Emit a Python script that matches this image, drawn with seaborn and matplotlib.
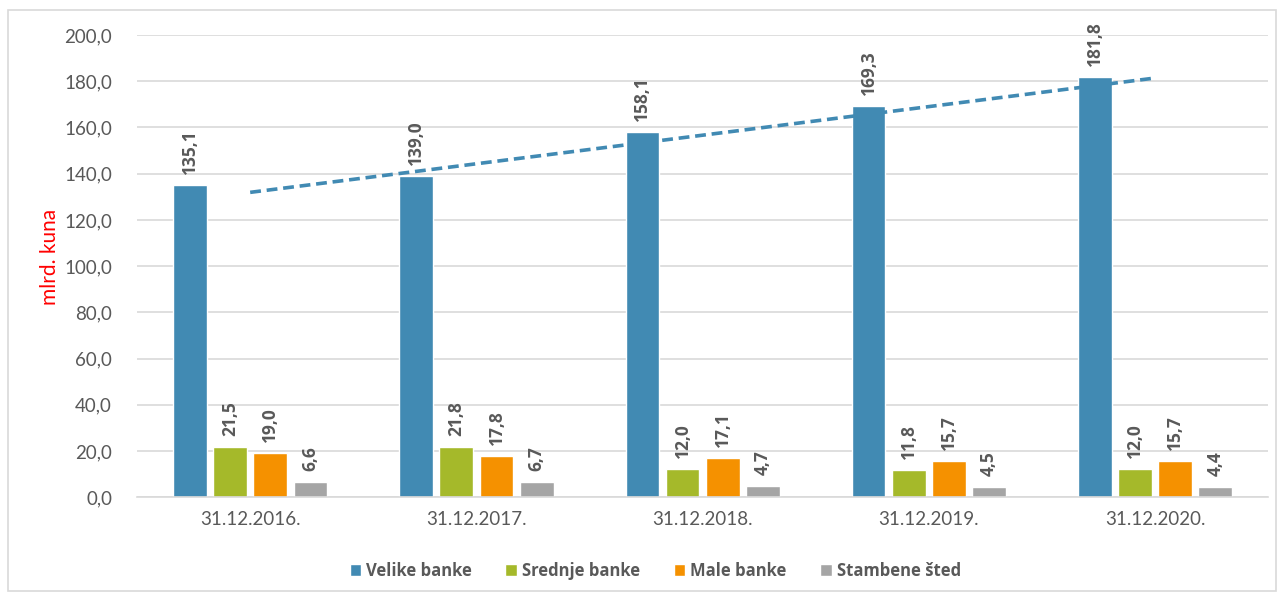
import numpy as np
import pandas as pd
import seaborn as sns
import matplotlib.pyplot as plt
from matplotlib.ticker import FuncFormatter
from matplotlib.patches import Rectangle

dates = ['31.12.2016.', '31.12.2017.', '31.12.2018.', '31.12.2019.', '31.12.2020.']
groups = ['Velike banke', 'Srednje banke', 'Male banke', 'Stambene šted']
velike = [135.1, 139.0, 158.1, 169.3, 181.8]
srednje = [21.5, 21.8, 12.0, 11.8, 12.0]
male = [19.0, 17.8, 17.1, 15.7, 15.7]
stambene = [6.6, 6.7, 4.7, 4.5, 4.4]
colors = ['#418AB3', '#A5B92A', '#F59100', '#A5A5A5']

rows = []
for g, vals in zip(groups, [velike, srednje, male, stambene]):
    for d, v in zip(dates, vals):
        rows.append({'datum': d, 'grupa': g, 'iznos': v})
df = pd.DataFrame(rows)

sns.set_style('white')
plt.rcParams['font.family'] = ['Lato', 'DejaVu Sans']
grey = '#595959'
bold_font = ['Open Sans', 'DejaVu Sans']

fig = plt.figure(figsize=(12.81, 5.94), dpi=100)
ax = fig.add_axes([0.107, 0.163, 0.883, 0.778])

sns.barplot(data=df, x='datum', y='iznos', hue='grupa', hue_order=groups,
            palette=colors, width=0.71, gap=0.16, ax=ax, legend=True,
            saturation=1)

for cont in ax.containers:
    labs = [f'{b.get_height():.1f}'.replace('.', ',') for b in cont]
    ax.bar_label(cont, labels=labs, rotation=90, padding=8, color=grey,
                 fontsize=12.5, fontweight='bold', family=bold_font)

# linearni trend za velike banke
xs = np.arange(len(dates))
k, n = np.polyfit(xs, velike, 1)
ax.plot(xs, k * xs + n, linestyle=(0, (3, 1.6)), color='#418AB3', lw=2.6)

ax.set_ylim(0, 200)
ax.set_xlim(-0.5, 4.5)
ax.set_yticks(np.arange(0, 201, 20))
ax.yaxis.set_major_formatter(FuncFormatter(lambda v, p: f'{v:.1f}'.replace('.', ',')))
ax.grid(axis='y', color='#D9D9D9', lw=1.2)
ax.set_axisbelow(True)
for s in ['left', 'right', 'top']:
    ax.spines[s].set_visible(False)
ax.spines['bottom'].set_color('#D9D9D9')
ax.spines['bottom'].set_linewidth(1.2)
ax.tick_params(axis='both', length=0, colors=grey, labelsize=13.5, pad=10)
ax.tick_params(axis='y', pad=18)
ax.set_xlabel('')
ax.set_ylabel('mlrd. kuna', color='red', fontsize=15)
ax.yaxis.set_label_coords(-0.068, 0.52)

leg = ax.legend(loc='center', bbox_to_anchor=(0.458, -0.16), ncol=4,
                frameon=False, handlelength=0.7, handleheight=0.7,
                handletextpad=0.3, columnspacing=2.0,
                prop={'size': 12, 'weight': 'bold', 'family': bold_font})
for t in leg.get_texts():
    t.set_color(grey)

fig.patches.append(Rectangle((0.006, 0.005), 0.99, 0.978, transform=fig.transFigure,
                             fill=False, edgecolor='#D9D9D9', lw=1.2))

fig.savefig('out.png', dpi=100)
